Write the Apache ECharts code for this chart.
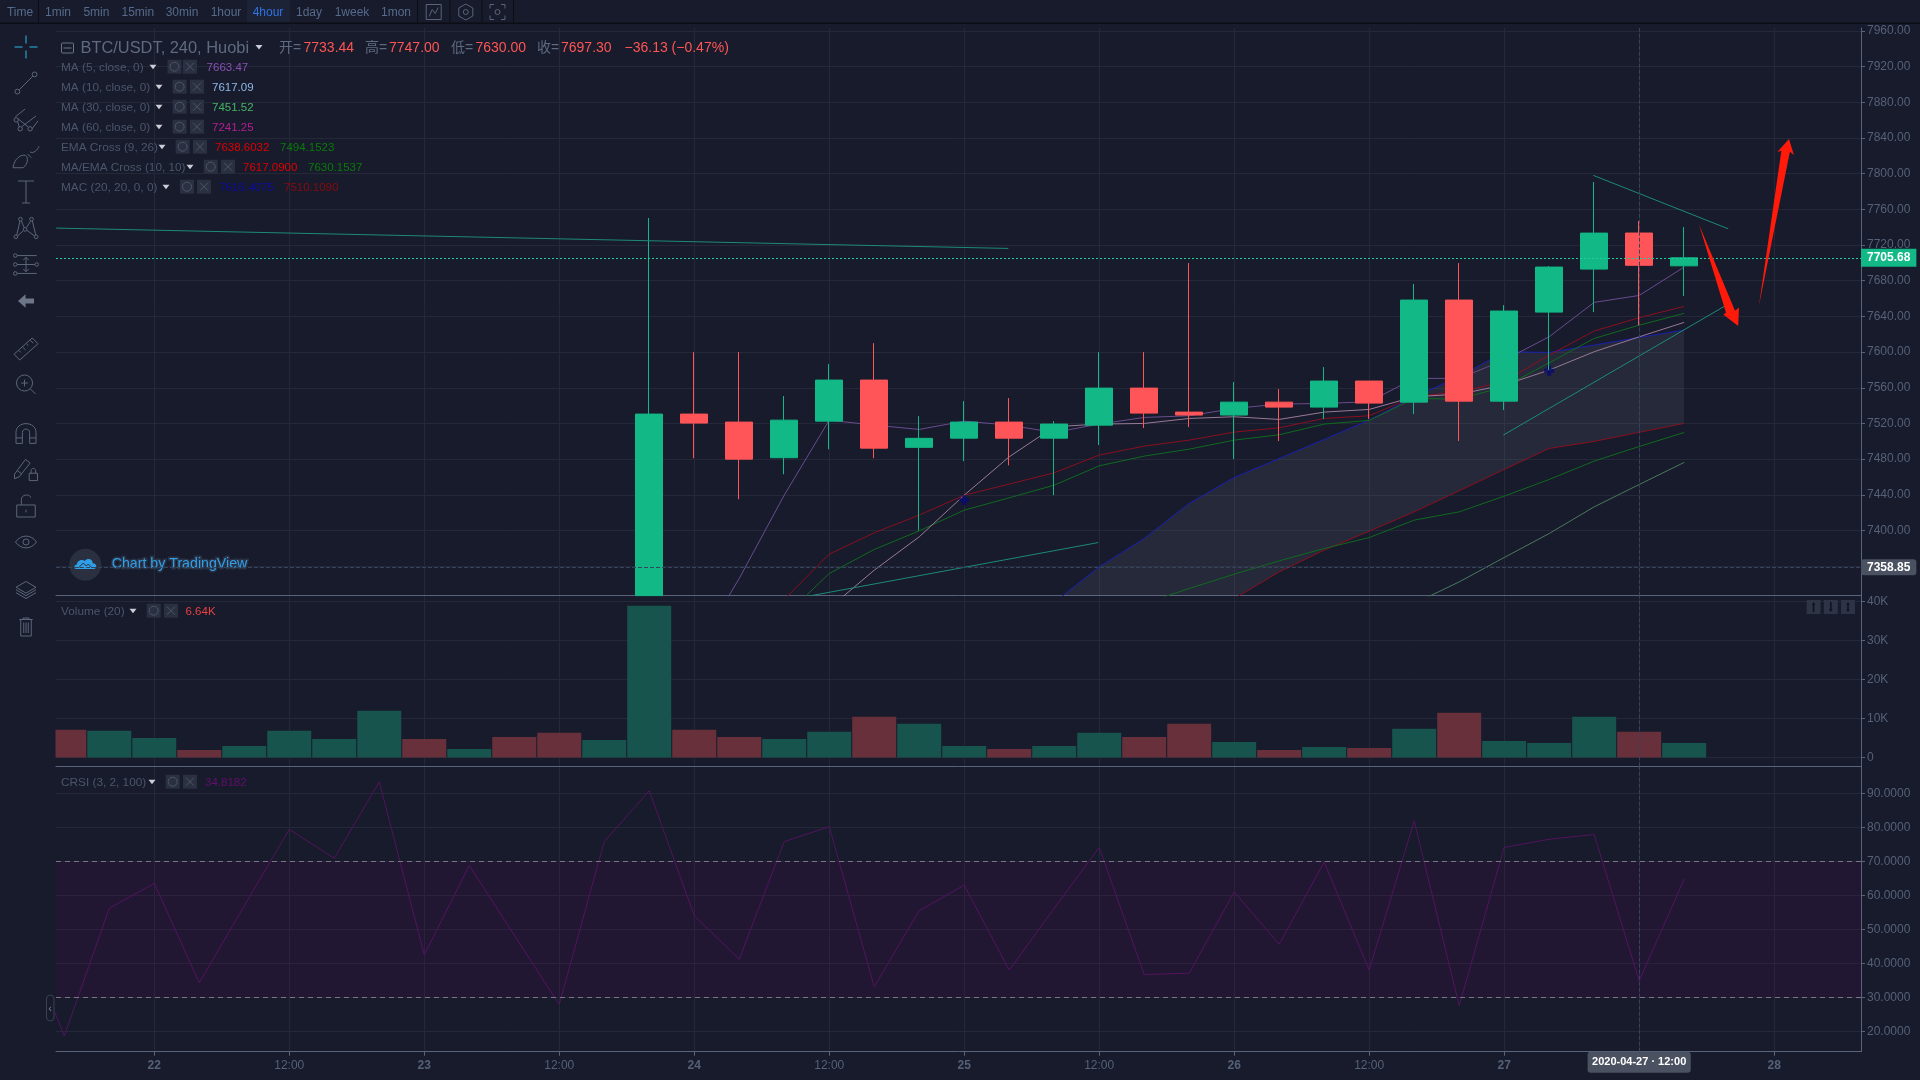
<!DOCTYPE html>
<html>
<head>
<meta charset="utf-8">
<title>BTC/USDT</title>
<style>
  html, body { margin: 0; padding: 0; background: #171b2b; }
  #chart { width: 1920px; height: 1080px; }
</style>
<script src="https://cdn.jsdelivr.net/npm/echarts@6/dist/echarts.min.js"></script>
</head>
<body>
<div id="chart"></div>
<script>
// x 轴用K线序号: 0 = 04-21 16:00, 每根4小时
var xTickBars = [2, 5, 8, 11, 14, 17, 20, 23, 26, 29, 32, 35, 38];
var xTickLabels = ['22', '12:00', '23', '12:00', '24', '12:00', '25', '12:00', '26', '12:00', '27', '12:00', '28'];
var crossBar = 35;
var crossTime = '2020-04-27 · 12:00';
var crossPrice = 7358.85;
var lastPrice = 7705.68;

var priceTicks = [7360, 7400, 7440, 7480, 7520, 7560, 7600, 7640, 7680, 7720, 7760, 7800, 7840, 7880, 7920, 7960];
var volumeTicks = [0, 10000, 20000, 30000, 40000];
var crsiTicks = [20, 30, 40, 50, 60, 70, 80, 90];

// K线从第13根开始, 更早的都在价格窗格下方. 第13根的开盘和最低看不到, 取窗格底部
var candleStart = 13;
var candleOpen = [7327, 7530.5, 7521.5, 7481.6, 7522.6, 7568.6, 7493.2, 7503.5, 7521.5, 7503.5, 7518.1, 7559.6, 7532.7, 7529.4, 7543.9, 7538.3, 7567.5, 7543.9, 7658.3, 7545, 7644.8, 7693, 7733.44, 7696.7];
var candleClose = [7530.5, 7520.4, 7480, 7523.7, 7568.6, 7492.3, 7503.3, 7521.5, 7503.5, 7519.3, 7559.6, 7531.6, 7529.4, 7543.9, 7538.3, 7567.5, 7542.8, 7658.3, 7545, 7646, 7695.3, 7733.4, 7697.3, 7705.68];
var candleLow = [7327, 7481, 7435, 7463, 7491, 7481, 7400, 7477.7, 7473, 7439.6, 7495.8, 7514.8, 7515.9, 7480, 7500.2, 7524.9, 7524.9, 7530.5, 7500.2, 7535, 7580, 7644.8, 7630, 7662.8];
var candleHigh = [7750.3, 7600, 7600, 7550.7, 7586.5, 7610, 7528.2, 7545, 7548.4, 7522.6, 7600, 7600, 7699.8, 7566.4, 7558.5, 7583.2, 7567.5, 7676.3, 7699.8, 7652.7, 7696.4, 7790.6, 7747, 7740.2];

var ma5 = [7262.1, 7346.2, 7439.6, 7523.7, 7518.1, 7513.3, 7522.6, 7518.1, 7509.9, 7519.3, 7526.7, 7528.6, 7536.8, 7541.7, 7542.4, 7544.3, 7570.5, 7570.5, 7591, 7617.2, 7655.7, 7663.47, 7695.3];
var ma10 = [7312.9, 7355.5, 7392.9, 7439.6, 7482.6, 7516.3, 7519.3, 7520, 7525.6, 7527.5, 7524.5, 7532.7, 7535.7, 7549.9, 7552.9, 7563, 7579.8, 7600.4, 7617.09, 7633.3];
var ma30 = [7318.1, 7342.4, 7369.7, 7396.6, 7426.5, 7451.52, 7476.3];
var emaFast = [7322.6, 7373.5, 7397.4, 7417.2, 7439.6, 7452, 7464.7, 7484.5, 7494.6, 7501.3, 7510.3, 7515.1, 7525.6, 7528.6, 7549.9, 7555.5, 7566.7, 7596.6, 7623.6, 7638.6, 7651.2];
var emaSlow = [7318.1, 7335, 7351, 7366, 7379.8, 7392.1, 7411.6, 7420.9, 7438.5, 7457.2, 7477.8, 7494.15, 7509.9];
var maEmaGreen = [7303.5, 7351.8, 7378.7, 7399.6, 7422.8, 7436.6, 7450.8, 7472.5, 7483.4, 7491.2, 7501.3, 7507.3, 7519.3, 7523.4, 7548, 7547.3, 7561.1, 7588, 7615.3, 7630.15, 7643.4];
var macUpper = [7319.3, 7359.2, 7391, 7430.3, 7459.4, 7480.7, 7502.1, 7523.7, 7549.9, 7572.3, 7600.4, 7599.6, 7607.9, 7616.41, 7624.7];
var macLower = [7226.5, 7250.8, 7275.1, 7299.4, 7323.7, 7353.6, 7378, 7399.2, 7420.9, 7444.5, 7468.4, 7492, 7499.8, 7510.11, 7520];
var crossMarks = [[20, 7434], [33, 7579]];

// 手画的趋势线 [序号, 价格]
var trendLines = [
  [[-0.18, 7739], [20.98, 7716.2]],
  [[16.57, 7326.7], [22.98, 7386.5]],
  [[33.98, 7798.1], [36.98, 7738.2]],
  [[31.98, 7506.9], [36.9, 7651.5]]
];
var arrowDown = [[36.33, 7742.9], [37.13, 7646.3], [37.22, 7650.1], [37.2, 7629.1], [36.87, 7642.2], [36.93, 7644.2]];
var arrowUp = [[37.66, 7651.5], [38.16, 7825.7], [38.07, 7824.2], [38.33, 7838.8], [38.44, 7820.9], [38.35, 7824.6]];

var volumes = [7094, 6838, 5043, 1966, 2991, 6838, 4786, 11966, 4786, 2222, 5299, 6325, 4530, 38889, 7094, 5299, 4786, 6581, 10427, 8632, 2991, 2222, 2991, 6325, 5299, 8632, 4017, 1966, 2735, 2479, 7350, 11453, 4274, 3761, 10427, 6640, 3761];
var volumeUp = [0, 1, 1, 0, 1, 1, 1, 1, 0, 1, 0, 0, 1, 1, 0, 0, 1, 1, 0, 1, 1, 0, 1, 1, 0, 0, 1, 0, 1, 0, 1, 0, 1, 1, 1, 0, 1];

// CRSI 从序号 -1 开始
var crsi = [51.8, 18.6, 56.2, 63.5, 34.3, 56.9, 79.4, 70.9, 93.4, 42.5, 68.8, 48.3, 27.9, 75.8, 90.8, 54, 41.2, 75.8, 80.2, 33.1, 55.5, 63, 38, 56.2, 74.1, 36.7, 37.1, 61, 45.6, 69.8, 38, 81.9, 27.5, 74.1, 76.5, 77.9, 34.82, 64.8];

var timeframes = [['Time', 20], ['1min', 58], ['5min', 96.4], ['15min', 137.8], ['30min', 182], ['1hour', 226], ['4hour', 268], ['1day', 309], ['1week', 352], ['1mon', 396]];

var FONT = '"Liberation Sans", "Noto Sans CJK SC", sans-serif';
var BG = '#171b2b', GRID = '#242838', AXIS = '#59637c', LABEL = '#566177', MUTED = '#4c566b';
var UP = '#12b886', DOWN = '#ff5558', RED = '#ff5555';

function fromBar(start, values) {
  return values.map(function (v, k) { return [start + k, v]; });
}
function circle(x, y, r) {
  return 'M' + (x - r) + ' ' + y + 'a' + r + ' ' + r + ' 0 1 0 ' + (2 * r) + ' 0a' + r + ' ' + r + ' 0 1 0 ' + (-2 * r) + ' 0';
}

var candles = candleOpen.map(function (o, k) {
  return [candleStart + k, o, candleClose[k], candleLow[k], candleHigh[k]];
});

// ---- 左边和顶部的工具栏, 图例文字 ----
var g = [];
var iconCount = 0;
function text(x, y, str, color, size, weight, align) {
  g.push({
    type: 'text', x: x, y: y + 0.7, silent: true, z: 50,
    style: { text: str, fill: color, font: (weight || 'normal') + ' ' + size + 'px ' + FONT, align: align || 'left', verticalAlign: 'middle' }
  });
}
function rect(x, y, w, h, fill, r) {
  g.push({ type: 'rect', silent: true, z: 49, shape: { x: x, y: y, width: w, height: h, r: r || 0 }, style: { fill: fill } });
}
// graphic 组件没有 path 类型, 每个图标注册一个形状
function icon(cx, cy, size, path, color, filled) {
  var name = 'toolIcon' + (iconCount++);
  echarts.graphic.registerShape(name, echarts.graphic.extendPath(path, {}));
  var box = echarts.graphic.makePath(path).getBoundingRect();
  var s = size / Math.max(box.width, box.height);
  g.push({
    type: name, silent: true, z: 50,
    x: cx - (box.x + box.width / 2) * s, y: cy - (box.y + box.height / 2) * s, scaleX: s, scaleY: s,
    style: filled ? { fill: color } : { fill: 'none', stroke: color, lineWidth: 1 / s }
  });
}
function tri(x, y) {
  g.push({ type: 'polygon', silent: true, z: 50, shape: { points: [[x - 3.5, y - 2], [x + 3.5, y - 2], [x, y + 2.5]] }, style: { fill: '#c9ced8' } });
}
function gearBox(gx, xx, y) {
  rect(gx - 7, y - 7, 14, 14, '#2a3040');
  rect(xx - 7, y - 7, 14, 14, '#2a3040');
  icon(gx, y, 9, circle(5, 5, 3), MUTED);
  icon(xx, y, 8, 'M0 0L8 8M8 0L0 8', MUTED);
}

// 第一根成交量柱伸到窗格左边外面, 盖掉
rect(30, 596.5, 25.5, 169, BG);

// 顶部
rect(247, 0, 43, 22, '#1d2336');
g.push({ type: 'rect', silent: true, z: 49, shape: { x: 0, y: 22.5, width: 1920, height: 1.5 }, style: { fill: '#0c0e16' } });
[38, 417, 449.5, 481.6, 513].forEach(function (x) {
  g.push({ type: 'rect', silent: true, z: 49, shape: { x: x, y: 0, width: 1, height: 23 }, style: { fill: '#0c0e16' } });
});
timeframes.forEach(function (t) {
  text(t[1], 12, t[0], t[0] === '4hour' ? '#2f72e4' : '#566a8c', 12, 'normal', 'center');
});
icon(433.7, 12, 15, 'M0 0H15V15H0Z M3 12L6 5L9 9L12 3', '#5a6478');
icon(465.8, 12, 16, 'M7 0L14 4V12L7 16L0 12V4Z' + circle(7, 8, 2.5), '#5a6478');
icon(497.5, 12, 15, 'M0 4V0H4M11 0H15V4M15 11V15H11M4 15H0V11' + circle(7.5, 7.5, 2.5), '#5a6478');

// 左侧绘图工具
var iconColor = '#5d6679';
icon(26, 47, 23, 'M0 11.5H8M15 11.5H23M11.5 0V8M11.5 15V23', '#2bb8e8');
icon(26, 83, 22, circle(3, 21, 2.5) + circle(21, 3, 2.5) + 'M5 19L19 5', iconColor);
icon(26, 120, 24, circle(4, 13, 2.2) + circle(8, 22, 2.2) + circle(18, 22, 2.2) + 'M5.5 14.5L7 20M6 12L16 20M9.5 20L24 9M3 10L13 2M20 22L26 14', iconColor);
icon(26, 157, 26, 'M1 22C2 14 8 10 12 11C15 13 14 19 10 22Z M14 10L17 13 M16 8C19 10 23 6 24 3', iconColor);
icon(26, 192, 22, 'M2 1H18M10 1V23M6 23H14', iconColor);
icon(26, 228, 24, circle(3, 22, 2) + circle(8, 3, 2) + circle(13, 14, 2) + circle(20, 3, 2) + circle(25, 22, 2) + 'M4 20L7.5 5M9 5L12 12M14.5 12L19 5M21 5L24.5 20M5 21L11 15.5M15 15L23 21', iconColor);
icon(26, 264.5, 25, circle(3, 2, 2) + circle(3, 12, 2) + circle(3, 22, 2) + circle(27, 12, 2) + 'M5 2H27M5 12H25M5 22H27M15 4V20M12 7L15 4L18 7M12 17L15 20L18 17', iconColor);
icon(26, 301, 16, 'M10 1L1 9L10 17V12H20V6H10Z', '#6d7688', true);
icon(26, 349, 24, 'M1 19L20 2L26 8L7 25Z M6 15L8 17 M10 11.5L13 14.5 M14 8L16 10 M18 4.5L21 7.5', iconColor);
icon(26, 384.5, 19, circle(11, 11, 9.5) + 'M18 18L24 24M7 11H15M11 7V15', iconColor);
icon(26, 433.5, 20, 'M2 24V12C2 -1 24 -1 24 12V24H17V12C17 7 9 7 9 12V24Z M2 18H9M17 18H24', iconColor);
icon(26, 470, 23, 'M1 19L13 3L18 7L6 22L1 24Z M4 15L9 19 M17 18H26V26H17Z M19 18V15C19 12 24 12 24 15V18', iconColor);
icon(26, 506, 22, 'M2 12H22V25H2Z M7 12V6C7 0 17 0 17 4 M12 17V20', iconColor);
icon(26, 542, 21, 'M1 9C7 0 19 0 25 9C19 18 7 18 1 9Z' + circle(13, 9, 3.5), iconColor);
icon(26, 590, 20, 'M12 1L24 8L12 15L0 8Z M0 11L12 18L24 11 M0 14.5L12 21.5L24 14.5', iconColor);
icon(26, 627, 18, 'M1 3H19 M6 3V1H14V3 M3 3V25H17V3 M7 7V21M10 7V21M13 7V21', iconColor);

// 主图标题
g.push({ type: 'rect', silent: true, z: 50, shape: { x: 61.5, y: 43, width: 12, height: 10, r: 1 }, style: { fill: 'none', stroke: '#6b7587', lineWidth: 1 } });
g.push({ type: 'rect', silent: true, z: 50, shape: { x: 63.5, y: 47.5, width: 8, height: 1 }, style: { fill: '#6b7587' } });
text(80.5, 47.5, 'BTC/USDT, 240, Huobi', '#5f6a80', 16.4);
tri(259, 47);
text(279, 47.5, '开=', '#5f6a80', 14); text(303.5, 47.5, '7733.44', RED, 14);
text(365, 47.5, '高=', '#5f6a80', 14); text(389, 47.5, '7747.00', RED, 14);
text(451, 47.5, '低=', '#5f6a80', 14); text(475.5, 47.5, '7630.00', RED, 14);
text(537, 47.5, '收=', '#5f6a80', 14); text(561, 47.5, '7697.30', RED, 14);
text(624.5, 47.5, '−36.13 (−0.47%)', RED, 14);

var legendRows = [
  ['MA (5, close, 0)', 66.7, 153, 174.5, 190, [[206.6, '7663.47', '#8a50b4']]],
  ['MA (10, close, 0)', 86.7, 159, 179.6, 197, [[212, '7617.09', '#8fb8e8']]],
  ['MA (30, close, 0)', 106.7, 159, 179.6, 197, [[212, '7451.52', '#45b565']]],
  ['MA (60, close, 0)', 126.7, 159, 179.6, 197, [[212, '7241.25', '#b02090']]],
  ['EMA Cross (9, 26)', 146.7, 162, 182.6, 200, [[215, '7638.6032', '#e00000'], [280, '7494.1523', '#0a7a0a']]],
  ['MA/EMA Cross (10, 10)', 166.7, 190, 210.7, 228, [[243, '7617.0900', '#e00000'], [308, '7630.1537', '#0a7a0a']]],
  ['MAC (20, 20, 0, 0)', 186.7, 166, 187, 204, [[219.4, '7616.4075', '#0a0aa0'], [284, '7510.1090', '#8a0a10']]],
  ['Volume (20)', 610.7, 133, 153.7, 171, [[185.5, '6.64K', '#e84040']]],
  ['CRSI (3, 2, 100)', 781.7, 152, 172.7, 190, [[205, '34.8182', '#650e6e']]]
];
legendRows.forEach(function (r) {
  text(61, r[1], r[0], MUTED, 11.8);
  tri(r[2], r[1]);
  gearBox(r[3], r[4], r[1]);
  r[5].forEach(function (v) { text(v[0], r[1], v[1], v[2], 11.5); });
});

// TradingView 标志
g.push({ type: 'circle', silent: true, z: 49, shape: { cx: 85.3, cy: 564.7, r: 16 }, style: { fill: '#2a3040' } });
icon(85.3, 564, 22, 'M2 12C0 12 0 8 3 8C3 4 8 3 10 5C12 2 17 3 17 7C21 7 21 12 18 12Z', '#2f9fe8', true);
icon(85.3, 565.5, 14, 'M3 11L8 6L11 9L13 7L17 11', '#2a3040');
g.push({
  type: 'text', x: 111.7, y: 564.5, silent: true, z: 50,
  style: { text: 'Chart by TradingView', fill: '#2f9fe8', stroke: '#2a3245', lineWidth: 3, font: '14.2px ' + FONT, align: 'left', verticalAlign: 'middle' }
});

// 成交量窗格右上角按钮, 左下折叠按钮
[[1813.6, 'M2 3L4 0L6 3H4.8V10H3.2V3Z'], [1830.8, 'M2 7L4 10L6 7H4.8V0H3.2V7Z'], [1848, 'M2 3L4 0L6 3H4.8V8H6L4 11L2 8H3.2V3Z']].forEach(function (b) {
  rect(b[0] - 7, 600, 14, 14, '#2e3445');
  icon(b[0], 607, 10, b[1], '#10131d', true);
});
g.push({ type: 'rect', silent: true, z: 50, shape: { x: 46.5, y: 995, width: 7.5, height: 26, r: 4 }, style: { fill: BG, stroke: '#3a4254', lineWidth: 1 } });
text(50.2, 1008, '‹', '#7a8499', 11, 'normal', 'center');

// ---- 三个窗格 ----
var panes = [
  { top: 28, height: 567.7 },
  { top: 596, height: 170.3 },
  { top: 766.5, height: 285.2 }
];
var barMin = -0.184, barMax = 39.93;

function makeX(index) {
  var isBottom = index === 2;
  return {
    type: 'value', gridIndex: index, min: barMin, max: barMax, position: 'bottom',
    axisLine: { show: true, onZero: false, lineStyle: { color: AXIS, width: 1 } },
    axisTick: { show: isBottom, length: 4, lineStyle: { color: AXIS }, customValues: xTickBars },
    splitLine: { show: true, lineStyle: { color: GRID, width: 1 } },
    axisLabel: isBottom ? {
      show: true, margin: 8, hideOverlap: false, fontFamily: FONT, fontSize: 12, color: LABEL,
      customValues: xTickBars.filter(function (b) { return b !== crossBar; }),
      formatter: function (v) {
        var s = xTickLabels[xTickBars.indexOf(v)];
        return s.indexOf(':') < 0 ? '{day|' + s + '}' : s;
      },
      rich: { day: { fontFamily: FONT, fontSize: 12, fontWeight: 'bold', color: LABEL } }
    } : { show: false },
    axisPointer: {
      show: true, status: 'show', value: crossBar, triggerTooltip: false, triggerOn: 'none', snap: false,
      lineStyle: { type: 'dashed', color: '#33445c', width: 1 },
      label: isBottom ? {
        show: true, margin: 0, formatter: function () { return crossTime; },
        backgroundColor: '#4a5160', color: '#fff', fontFamily: FONT, fontSize: 11, fontWeight: 'bold', padding: [5, 4.5]
      } : { show: false }
    }
  };
}
function makeY(index, min, max, ticks, format) {
  return {
    type: 'value', gridIndex: index, min: min, max: max, position: 'right',
    axisLine: { show: true, onZero: false, lineStyle: { color: AXIS } },
    axisTick: { show: true, length: 4, lineStyle: { color: AXIS }, customValues: ticks },
    splitLine: { show: true, lineStyle: { color: GRID, width: 1 } },
    axisLabel: {
      margin: 6, padding: [5, 0, 0, 0], fontFamily: FONT, fontSize: 12, color: LABEL,
      hideOverlap: false, customValues: ticks, formatter: format
    }
  };
}
function lineSeries(start, values, color, width) {
  return {
    type: 'line', xAxisIndex: 0, yAxisIndex: 0, data: fromBar(start, values),
    showSymbol: false, symbol: 'none', silent: true, animation: false, z: 2,
    lineStyle: { color: color, width: width || 1 }
  };
}

var series = [];
// MAC 通道, 上下轨之间填灰. x 也是数值轴, stack 会叠到 x 上, 所以用 custom 画一个多边形
series.push({
  type: 'custom', xAxisIndex: 0, yAxisIndex: 0, data: [[22, macLower[0]]], silent: true, z: 1, clip: true,
  renderItem: function (params, api) {
    var upper = fromBar(22, macUpper);
    var lower = fromBar(22, macLower).reverse();
    var pts = upper.concat(lower).map(function (p) { return api.coord(p); });
    return { type: 'polygon', shape: { points: pts }, style: { fill: 'rgba(120,125,140,0.15)' } };
  }
});
series.push(lineSeries(22, macLower, '#8a1020', 1));
series.push(lineSeries(22, macUpper, '#1a20b0', 1));
series.push(lineSeries(30, ma30, '#4a7a5e', 1));
series.push(lineSeries(24, emaSlow, '#116a20', 1));
series.push(lineSeries(16, maEmaGreen, '#116a20', 1));
series.push(lineSeries(16, emaFast, '#8a1020', 1));
series.push(lineSeries(17, ma10, '#9a7a96', 1));
series.push(lineSeries(14, ma5, '#6a4c8f', 1));
series.push({
  type: 'scatter', xAxisIndex: 0, yAxisIndex: 0, data: crossMarks, silent: true, z: 2,
  symbol: 'path://M3 0H7V3H10V7H7V10H3V7H0V3H3Z', symbolSize: 10, itemStyle: { color: '#0a0a70' }
});
series.push({
  type: 'candlestick', xAxisIndex: 0, yAxisIndex: 0, data: candles, barWidth: 28, silent: true, z: 3,
  itemStyle: { color: UP, color0: DOWN, borderColor: UP, borderColor0: DOWN, borderWidth: 1 },
  markLine: {
    silent: true, symbol: 'none', animation: false, precision: 2,
    data: [{ yAxis: lastPrice }],
    lineStyle: { type: [2, 2], color: '#1fd0a0', width: 1 },
    label: {
      show: true, position: 'end', distance: 0, formatter: lastPrice.toFixed(2),
      backgroundColor: UP, color: '#fff', fontFamily: FONT, fontSize: 12, fontWeight: 'bold', padding: [3, 6]
    }
  }
});
trendLines.forEach(function (t) {
  series.push({
    type: 'line', xAxisIndex: 0, yAxisIndex: 0, data: t, symbol: 'none', silent: true, z: 4,
    lineStyle: { color: '#1d8a78', width: 1 }
  });
});
series.push({
  type: 'custom', xAxisIndex: 0, yAxisIndex: 0, data: [arrowDown[0], arrowUp[0]], silent: true, z: 5, clip: false,
  renderItem: function (params, api) {
    var pts = (params.dataIndex === 0 ? arrowDown : arrowUp).map(function (p) { return api.coord(p); });
    return { type: 'polygon', shape: { points: pts }, style: { fill: '#ff1a0a' } };
  }
});
series.push({
  type: 'bar', xAxisIndex: 1, yAxisIndex: 1, data: fromBar(0, volumes), barWidth: 44, silent: true,
  itemStyle: { color: function (p) { return volumeUp[p.dataIndex] ? '#17544e' : '#68303a'; } }
});
series.push({
  type: 'line', xAxisIndex: 2, yAxisIndex: 2, data: fromBar(-1, crsi), symbol: 'none', silent: true,
  lineStyle: { color: '#53145f', width: 1 },
  markArea: { silent: true, data: [[{ yAxis: 30 }, { yAxis: 70 }]], itemStyle: { color: 'rgba(103,0,98,0.14)' } },
  markLine: {
    silent: true, symbol: 'none', label: { show: false }, data: [{ yAxis: 30 }, { yAxis: 70 }],
    lineStyle: { type: [5, 4], color: '#7d7585', width: 1 }
  }
});

var yPrice = makeY(0, 7326.9, 7963.3, priceTicks, function (v) { return v.toFixed(2); });
yPrice.axisPointer = {
  show: true, status: 'show', value: crossPrice, triggerTooltip: false, triggerOn: 'none', snap: false,
  lineStyle: { type: 'dashed', color: '#33445c', width: 1 },
  label: {
    show: true, margin: 0, formatter: function () { return crossPrice.toFixed(2); },
    backgroundColor: '#4a5160', color: '#fff', fontFamily: FONT, fontSize: 12, fontWeight: 'bold', padding: [2, 6]
  }
};

var option = {
  animation: false,
  backgroundColor: BG,
  grid: panes.map(function (p) {
    return { left: 56, right: 59, top: p.top, height: p.height };
  }),
  xAxis: [makeX(0), makeX(1), makeX(2)],
  yAxis: [
    yPrice,
    makeY(1, -2231, 41359, volumeTicks, function (v) { return v === 0 ? '0' : (v / 1000) + 'K'; }),
    makeY(2, 14, 97.9, crsiTicks, function (v) { return v.toFixed(4); })
  ],
  series: series,
  graphic: { elements: g }
};

var myChart = echarts.init(document.getElementById('chart'));
myChart.setOption(option);
</script>
</body>
</html>
